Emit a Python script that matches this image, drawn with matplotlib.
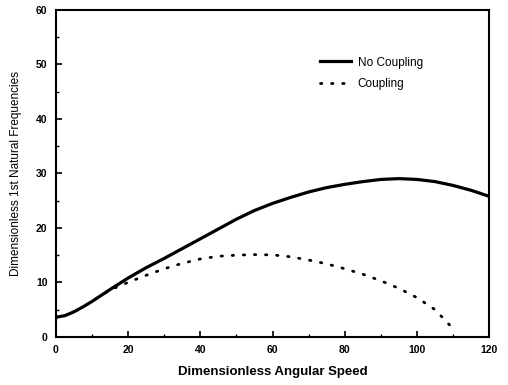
import numpy as np
import matplotlib
matplotlib.use('Agg')
import matplotlib.pyplot as plt
from matplotlib.ticker import MultipleLocator

plt.rcParams['font.family'] = ['Liberation Sans', 'DejaVu Sans']

# 連成なし
speed_nc = [0, 2.5, 5, 7.5, 10, 12.5, 15, 20, 25, 30, 35, 40, 45, 50, 55, 60,
            65, 70, 75, 80, 85, 90, 95, 100, 105, 110, 115, 120]
freq_nc = [3.6, 3.9, 4.6, 5.5, 6.5, 7.6, 8.7, 10.8, 12.7, 14.4, 16.2, 18.0,
           19.8, 21.6, 23.2, 24.5, 25.6, 26.6, 27.4, 28.0, 28.5, 28.9, 29.05,
           28.9, 28.5, 27.8, 26.9, 25.8]

# 連成あり
speed_c = [0, 2.5, 5, 7.5, 10, 12.5, 15, 20, 25, 30, 35, 40, 45, 50, 55, 60,
           65, 70, 75, 80, 85, 90, 95, 100, 105, 109]
freq_c = [3.6, 3.9, 4.6, 5.5, 6.5, 7.6, 8.6, 10.0, 11.3, 12.5, 13.5, 14.3,
          14.8, 15.0, 15.1, 15.05, 14.7, 14.1, 13.4, 12.5, 11.5, 10.3, 8.9,
          7.2, 5.0, 2.2]

fig = plt.figure(figsize=(5.08, 3.85), dpi=100)
ax = fig.add_axes([0.110, 0.125, 0.853, 0.849])

ax.plot(speed_nc, freq_nc, color='black', lw=2.3, label='No Coupling')
ax.plot(speed_c, freq_c, color='black', lw=2.0, dashes=[0.5, 3.5],
        dash_capstyle='round', label='Coupling')

ax.set_xlim(0, 120)
ax.set_ylim(0, 60)
ax.xaxis.set_major_locator(MultipleLocator(20))
ax.xaxis.set_minor_locator(MultipleLocator(10))
ax.yaxis.set_major_locator(MultipleLocator(10))
ax.yaxis.set_minor_locator(MultipleLocator(5))
ax.tick_params(which='both', direction='in', top=False, right=False)
ax.tick_params(which='major', length=4, width=1.2, labelsize=7.5, pad=6)
ax.tick_params(which='minor', length=2, width=1.0)
for lab in ax.get_xticklabels() + ax.get_yticklabels():
    lab.set_fontweight('bold')
for s in ax.spines.values():
    s.set_linewidth(1.5)

ax.set_xlabel('Dimensionless Angular Speed', fontsize=9.5, fontweight='bold', labelpad=8)
ax.set_ylabel('Dimensionless 1st Natural Frequencies', fontsize=8.5, labelpad=10)

ax.legend(loc='upper left', bbox_to_anchor=(0.585, 0.89), frameon=False,
          fontsize=8.5, handlelength=2.6, handletextpad=0.6, labelspacing=0.8)

fig.savefig('out.png', dpi=100)
